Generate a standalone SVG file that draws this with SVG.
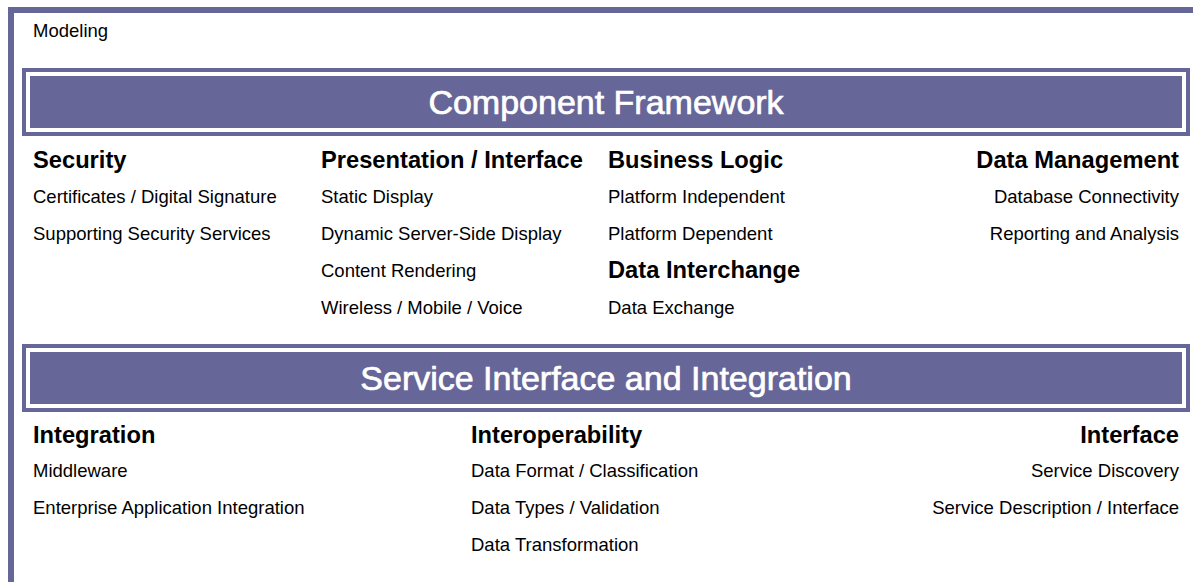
<svg xmlns="http://www.w3.org/2000/svg" width="1193" height="582" viewBox="0 0 1193 582">
<style>
.bar{fill:#666699}
.bo{fill:none;stroke:#666699;stroke-width:4}
.title{font-family:"Liberation Sans",Arial,sans-serif;font-size:34px;fill:#ffffff;stroke:#ffffff;stroke-width:0.7;text-anchor:middle}
.h{font-family:"Liberation Sans",Arial,sans-serif;font-size:23.7px;font-weight:bold;fill:#000}
.i{font-family:"Liberation Sans",Arial,sans-serif;font-size:18.5px;fill:#000}
.r{text-anchor:end}
</style>
<rect width="1193" height="582" fill="#ffffff"/>
<g id="frame">
<rect class="bar" x="8" y="7" width="1185" height="6"/>
<rect class="bar" x="8" y="7" width="6" height="575"/>
<text class="i" x="33" y="37">Modeling</text>
</g>
<g id="component-framework">
<rect class="bo" x="24" y="70" width="1164" height="64"/>
<rect class="bar" x="30" y="76" width="1152" height="52"/>
<text class="title" x="606" y="114">Component Framework</text>
</g>
<g id="security">
<text class="h" x="33" y="167.5">Security</text>
<text class="i" x="33" y="202.5">Certificates / Digital Signature</text>
<text class="i" x="33" y="239.5">Supporting Security Services</text>
</g>
<g id="presentation">
<text class="h" x="321" y="167.5">Presentation / Interface</text>
<text class="i" x="321" y="202.5">Static Display</text>
<text class="i" x="321" y="239.5">Dynamic Server-Side Display</text>
<text class="i" x="321" y="276.5">Content Rendering</text>
<text class="i" x="321" y="313.5">Wireless / Mobile / Voice</text>
</g>
<g id="business-logic">
<text class="h" x="608" y="167.5">Business Logic</text>
<text class="i" x="608" y="202.5">Platform Independent</text>
<text class="i" x="608" y="239.5">Platform Dependent</text>
</g>
<g id="data-interchange">
<text class="h" x="608" y="278">Data Interchange</text>
<text class="i" x="608" y="313.5">Data Exchange</text>
</g>
<g id="data-management">
<text class="h r" x="1179" y="167.5">Data Management</text>
<text class="i r" x="1179" y="202.5">Database Connectivity</text>
<text class="i r" x="1179" y="239.5">Reporting and Analysis</text>
</g>
<g id="service-interface">
<rect class="bo" x="24" y="346" width="1164" height="64"/>
<rect class="bar" x="30" y="352" width="1152" height="52"/>
<text class="title" x="606" y="390">Service Interface and Integration</text>
</g>
<g id="integration">
<text class="h" x="33" y="443">Integration</text>
<text class="i" x="33" y="477">Middleware</text>
<text class="i" x="33" y="514">Enterprise Application Integration</text>
</g>
<g id="interoperability">
<text class="h" x="471" y="443">Interoperability</text>
<text class="i" x="471" y="477">Data Format / Classification</text>
<text class="i" x="471" y="514">Data Types / Validation</text>
<text class="i" x="471" y="551">Data Transformation</text>
</g>
<g id="interface">
<text class="h r" x="1179" y="443">Interface</text>
<text class="i r" x="1179" y="477">Service Discovery</text>
<text class="i r" x="1179" y="514">Service Description / Interface</text>
</g>
<g id="connectors"/>
</svg>
